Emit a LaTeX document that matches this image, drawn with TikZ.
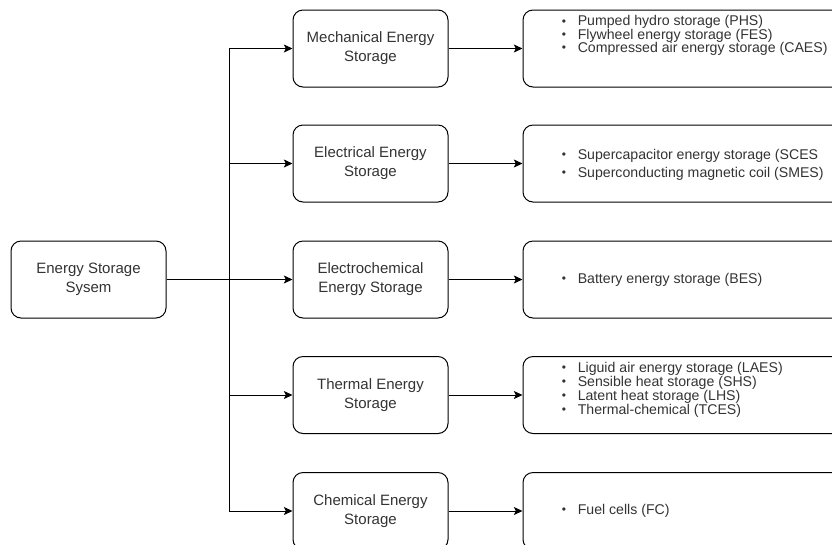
\documentclass[tikz,border=0pt]{standalone}
\usepackage{fontspec}
\setmainfont{Liberation Sans}
\usetikzlibrary{arrows.meta,calc}
\definecolor{txt}{HTML}{333333}

% bullet item for the lists on the right
\newcommand{\itm}[1]{\makebox[12pt][l]{\raisebox{0.1ex}{\scalebox{0.85}{\textbullet}}}#1}

\begin{document}
\begin{tikzpicture}[x=0.75pt,y=-0.75pt,
  box/.style={draw=black, line width=0.75pt, rounded corners=7.5pt, fill=white,
    text=txt, align=center, inner sep=0pt,
    font=\fontsize{11.25}{14.3}\selectfont},
  catbox/.style={box, minimum width=116.25pt, minimum height=57.75pt},
  listbox/.style={box, minimum width=282pt, minimum height=57.75pt},
  listtext/.style={text=txt, align=left, inner sep=0pt, anchor=west,
    font=\fontsize{10.6}{#1}\selectfont},
  conn/.style={draw=black, line width=0.75pt, -{Stealth[length=6.5pt,width=6pt,inset=1.5pt]}}
]
\useasboundingbox (0,0) rectangle (832,544);
\clip (0,0) rectangle (832,544);

% source
\node[catbox] (src) at (88.5,279.5) {Energy Storage\\Sysem};

% storage categories
\node[catbox] (mech)  at (370.5,48.5)  {Mechanical Energy\\Storage};
\node[catbox] (elec)  at (370.5,163.5) {Electrical Energy\\Storage};
\node[catbox] (echem) at (370.5,279.5) {Electrochemical\\Energy Storage};
\node[catbox] (therm) at (370.5,395)   {Thermal Energy\\Storage};
\node[catbox] (chem)  at (370.5,511)   {Chemical Energy\\Storage};

% technology lists
\node[listbox] (lmech)  at (711,48.5)  {};
\node[listbox] (lelec)  at (711,163.5) {};
\node[listbox] (lechem) at (711,279.5) {};
\node[listbox] (ltherm) at (711,395)   {};
\node[listbox] (lchem)  at (711,511)   {};

\node[listtext=9.9] (tmech) at ($(lmech.west)+(39,-13)$) {%
  \itm{Pumped hydro storage (PHS)}\\
  \itm{Flywheel energy storage (FES)}\\
  \itm{Compressed air energy storage (CAES)}};
\node[listtext=13.3] (telec) at ($(lelec.west)+(39,1)$) {%
  \itm{Supercapacitor energy storage (SCES}\\
  \itm{Superconducting magnetic coil (SMES)}};
\node[listtext=12.8] (techem) at ($(lechem.west)+(39,0)$) {%
  \itm{Battery energy storage (BES)}};
\node[listtext=10.5] (ttherm) at ($(ltherm.west)+(39,-5)$) {%
  \itm{Liguid air energy storage (LAES)}\\
  \itm{Sensible heat storage (SHS)}\\
  \itm{Latent heat storage (LHS)}\\
  \itm{Thermal-chemical (TCES)}};
\node[listtext=12.8] (tchem) at ($(lchem.west)+(39,0)$) {%
  \itm{Fuel cells (FC)}};

% branching connectors
\coordinate (spine) at ($(src.east)!0.5!(echem.west)$);
\foreach \n in {mech,elec,therm,chem}
  \draw[conn] (src.east) -- (spine) |- (\n.west);
\draw[conn] (src.east) -- (echem.west);

% category to list connectors
\draw[conn] (mech.east)  -- (lmech.west);
\draw[conn] (elec.east)  -- (lelec.west);
\draw[conn] (echem.east) -- (lechem.west);
\draw[conn] (therm.east) -- (ltherm.west);
\draw[conn] (chem.east)  -- (lchem.west);
\end{tikzpicture}
\end{document}
